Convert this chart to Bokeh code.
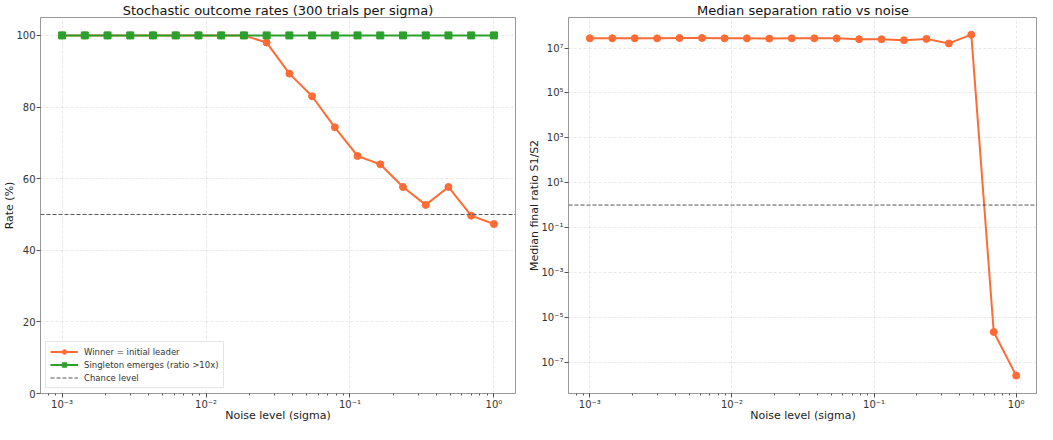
from bokeh.plotting import figure
from bokeh.layouts import row
from bokeh.models import (ColumnDataSource, Span, Legend, LegendItem, FixedTicker,
                          CustomJSTickFormatter, Range1d)
from bokeh.embed import file_html
from bokeh.resources import INLINE

# ---- data ----
sigma = [0.001, 0.001438, 0.002069, 0.002976, 0.004281, 0.006158, 0.008859,
         0.012743, 0.018330, 0.026367, 0.037927, 0.054556, 0.078476, 0.112884,
         0.162378, 0.233572, 0.335982, 0.483293, 0.695193, 1.0]
winner_pct = [100.0, 100.0, 100.0, 100.0, 100.0, 100.0, 100.0, 100.0, 100.0,
              98.0, 89.33, 83.0, 74.33, 66.33, 64.0, 57.67, 52.67, 57.67, 49.67, 47.33]
singleton_pct = [100.0] * 20
median_ratio = [2.72e7, 2.72e7, 2.72e7, 2.70e7, 2.80e7, 2.80e7, 2.70e7, 2.70e7,
                2.63e7, 2.70e7, 2.70e7, 2.70e7, 2.46e7, 2.46e7, 2.23e7, 2.55e7,
                1.60e7, 3.93e7, 2.2e-6, 2.5e-8]
chance_rate = 50
chance_ratio = 1

titles = ["Stochastic outcome rates (300 trials per sigma)", "Median separation ratio vs noise"]
xlabel = "Noise level (sigma)"
ylabels = ["Rate (%)", "Median final ratio S1/S2"]
legend_labels = ["Winner = initial leader", "Singleton emerges (ratio >10x)", "Chance level"]

ORANGE = "#ff6b35"
GREEN = "#2ca02c"
FONT = "DejaVu Sans"
H = 424

SUP = CustomJSTickFormatter(code="""
const e = Math.round(Math.log10(tick));
const sup = {'-':'\u207b','0':'\u2070','1':'\u00b9','2':'\u00b2','3':'\u00b3','4':'\u2074',
             '5':'\u2075','6':'\u2076','7':'\u2077','8':'\u2078','9':'\u2079'};
return '10' + String(e).split('').map(c => sup[c]).join('');
""")


def style(p):
    p.title.text_font = FONT
    p.title.text_font_size = "13px"
    p.title.text_font_style = "normal"
    p.title.align = "center"
    p.title.text_color = "#111111"
    p.title.standoff = 0
    p.title.offset = 0
    for ax in (p.xaxis[0], p.yaxis[0]):
        ax.axis_label_text_font = FONT
        ax.axis_label_text_font_size = "11px"
        ax.axis_label_text_font_style = "normal"
        ax.axis_label_text_color = "#222222"
        ax.major_label_text_font = FONT
        ax.major_label_text_font_size = "10px"
        ax.major_label_text_color = "#333333"
        ax.axis_line_color = "#999999"
        ax.major_tick_line_color = "#555555"
        ax.minor_tick_line_color = "#555555"
        ax.major_tick_out = 4
        ax.major_tick_in = 0
        ax.minor_tick_out = 2
        ax.minor_tick_in = 0
        ax.major_label_standoff = 1
    p.xaxis.axis_label_standoff = -4
    p.yaxis.axis_label_standoff = -3
    p.xaxis.formatter = SUP
    p.outline_line_color = "#999999"
    p.outline_line_width = 1
    p.grid.grid_line_color = "#cccccc"
    p.grid.grid_line_alpha = 0.45
    p.grid.grid_line_dash = "3 2"
    p.background_fill_color = "white"
    p.border_fill_color = "white"


src = ColumnDataSource(dict(x=sigma, w=winner_pct, s=singleton_pct, r=median_ratio))

# ---- left ----
p1 = figure(width=518, height=H, x_axis_type="log",
            x_range=Range1d(10 ** -3.15, 10 ** 0.15), y_range=Range1d(0, 105),
            title=titles[0], output_backend="svg", toolbar_location=None,
            min_border_left=0, min_border_right=3, min_border_top=0, min_border_bottom=0)
style(p1)
p1.xaxis.axis_label = xlabel
p1.yaxis.axis_label = ylabels[0]
p1.yaxis.ticker = FixedTicker(ticks=[0, 20, 40, 60, 80, 100])
p1.yaxis.minor_tick_line_color = None

lw = p1.line("x", "w", source=src, color=ORANGE, line_width=2)
mw = p1.scatter("x", "w", source=src, color=ORANGE, size=7, marker="circle")
ls = p1.line("x", "s", source=src, color=GREEN, line_width=2)
ms = p1.scatter("x", "s", source=src, color=GREEN, size=7, marker="square")
p1.add_layout(Span(location=chance_rate, dimension="width", line_color="#555555",
                   line_dash="4 2", line_width=1))
ld = p1.line([sigma[0], sigma[0]], [chance_rate, chance_rate], color="#555555",
             line_dash="4 2", line_width=1)

legend = Legend(items=[LegendItem(label=legend_labels[0], renderers=[lw, mw]),
                       LegendItem(label=legend_labels[1], renderers=[ls, ms]),
                       LegendItem(label=legend_labels[2], renderers=[ld])],
                location="bottom_left")
legend.label_text_font = FONT
legend.label_text_font_size = "8.5px"
legend.label_text_color = "#333333"
legend.border_line_color = "#cccccc"
legend.border_line_width = 1
legend.background_fill_alpha = 0.9
legend.glyph_width = 28
legend.glyph_height = 11
legend.label_height = 11
legend.label_standoff = 6
legend.spacing = 2
legend.padding = 4
legend.margin = 5
p1.add_layout(legend)

# ---- right ----
p2 = figure(width=519, height=H, x_axis_type="log", y_axis_type="log",
            x_range=Range1d(10 ** -3.15, 10 ** 0.15), y_range=Range1d(10 ** -8.40, 10 ** 8.36),
            title=titles[1], output_backend="svg", toolbar_location=None,
            min_border_left=50, min_border_right=0, min_border_top=0, min_border_bottom=0)
style(p2)
p2.xaxis.axis_label = xlabel
p2.yaxis.axis_label = ylabels[1]
p2.yaxis.ticker = FixedTicker(ticks=[1e-7, 1e-5, 1e-3, 1e-1, 1e1, 1e3, 1e5, 1e7])
p2.yaxis.formatter = SUP
p2.yaxis.minor_tick_line_color = None

p2.line("x", "r", source=src, color=ORANGE, line_width=2)
p2.scatter("x", "r", source=src, color=ORANGE, size=7, marker="circle")
p2.add_layout(Span(location=chance_ratio, dimension="width", line_color="#555555",
                   line_dash="4 2", line_width=1))

layout = row(p1, p2)
open("out.html", "w").write(file_html(layout, INLINE))
